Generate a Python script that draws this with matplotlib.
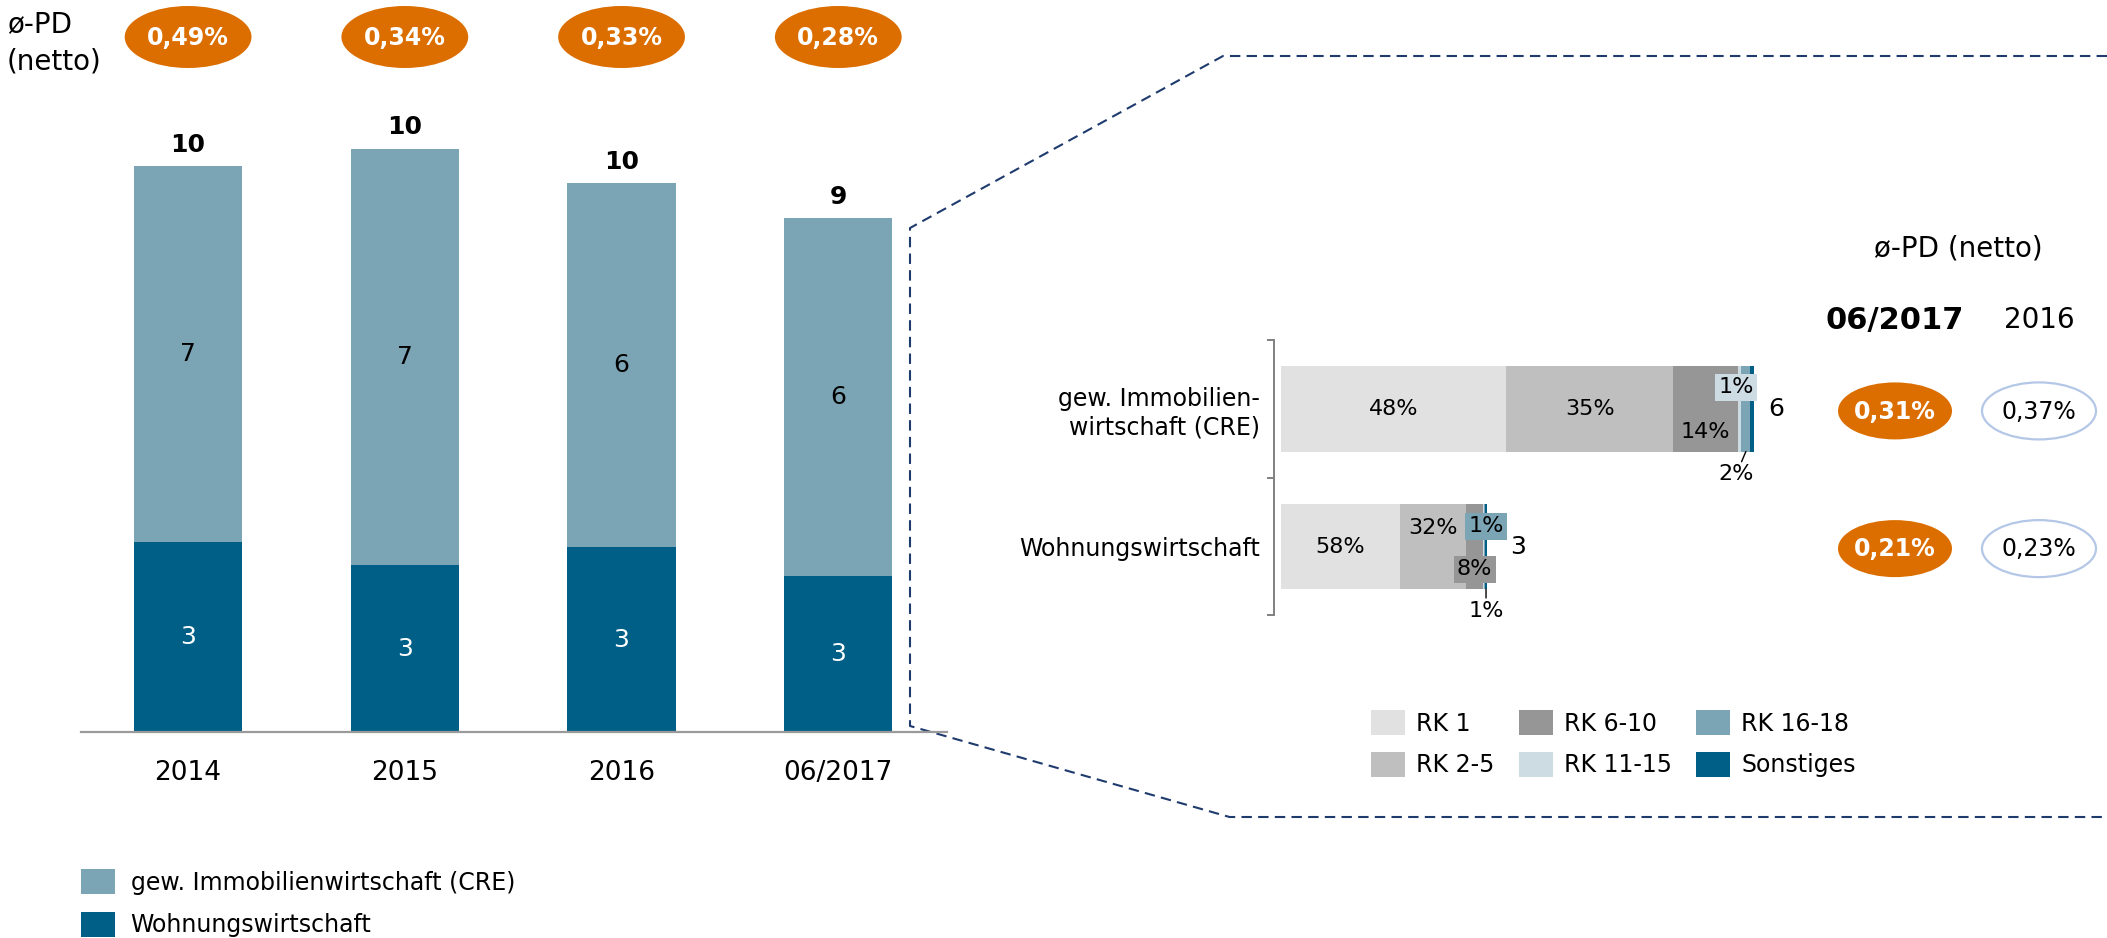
import matplotlib
matplotlib.use('Agg')
import matplotlib.pyplot as plt
from matplotlib.patches import Ellipse
from matplotlib.transforms import blended_transform_factory
import numpy as np

plt.rcParams['font.family'] = ['DejaVu Sans']

# ---------------- data ----------------
years = ['2014', '2015', '2016', '06/2017']
cre_vals = [6.5, 7.2, 6.3, 6.2]
wohn_vals = [3.3, 2.9, 3.2, 2.7]
total_labels = ['10', '10', '10', '9']
cre_labels = ['7', '7', '6', '6']
wohn_labels = ['3', '3', '3', '3']
pd_by_year = ['0,49%', '0,34%', '0,33%', '0,28%']
series_names = ['gew. Immobilienwirtschaft (CRE)', 'Wohnungswirtschaft']

rk_classes = ['RK 1', 'RK 2-5', 'RK 6-10', 'RK 11-15', 'RK 16-18', 'Sonstiges']
segments = ['gew. Immobilien-\nwirtschaft (CRE)', 'Wohnungswirtschaft']
segment_totals = [6.2, 2.7]
segment_total_labels = ['6', '3']
cre_shares = [47.7, 35.3, 13.7, 0.7, 1.9, 0.7]
wohn_shares = [57.8, 32.2, 8.3, 0.4, 0.7, 0.6]
cre_share_labels = ['48%', '35%', '14%', '1%', '2%', None]
wohn_share_labels = ['58%', '32%', '8%', None, '1%', '1%']
pd_0617 = ['0,31%', '0,21%']
pd_2016 = ['0,37%', '0,23%']
pd_header = ['06/2017', '2016']

# ---------------- style ----------------
C_LIGHT = '#7ba4b5'
C_DARK = '#005f87'
C_ORANGE = '#dc6e00'
RK_COLORS = ['#e1e1e1', '#bfbfbf', '#969696', '#cddbe3', '#7ba4b5', '#005f87']
C_DASH = '#1f3b6e'
C_GREY = '#9a9a9a'

W, H = 2107, 938
fig = plt.figure(figsize=(W / 100, H / 100), dpi=100)


def fx(px):
    return px / W


def fy(py):
    return 1 - py / H


# overlay in pixel coordinates for decorations
ov = fig.add_axes([0, 0, 1, 1])
ov.set_xlim(0, W)
ov.set_ylim(H, 0)
ov.axis('off')

# ---------------- left stacked bars ----------------
ax1 = fig.add_axes([fx(80.6), fy(732.3), fx(947.3 - 80.6), (732.3 - 80.6) / H])
x = np.arange(len(years))
b_w = ax1.bar(x, wohn_vals, width=0.5, color=C_DARK, label=series_names[1])
b_c = ax1.bar(x, cre_vals, bottom=wohn_vals, width=0.5, color=C_LIGHT, label=series_names[0])
ax1.set_xlim(-0.496, 3.503)
ax1.set_ylim(0, 11.28)
for s in ['top', 'left', 'right']:
    ax1.spines[s].set_visible(False)
ax1.spines['bottom'].set_color(C_GREY)
ax1.spines['bottom'].set_linewidth(1.6)
ax1.set_yticks([])
ax1.set_xticks(x, years)
ax1.tick_params(axis='x', length=0, pad=20, labelsize=19)
ax1.patch.set_alpha(0)

for i in range(len(years)):
    tot = cre_vals[i] + wohn_vals[i]
    ax1.annotate(total_labels[i], (x[i], tot), xytext=(0, 10.5), textcoords='offset points',
                 ha='center', va='baseline', fontsize=18, fontweight='bold')
    ax1.text(x[i], wohn_vals[i] + cre_vals[i] / 2, cre_labels[i], ha='center', va='center',
             fontsize=18, color='black')
    ax1.text(x[i], wohn_vals[i] / 2, wohn_labels[i], ha='center', va='center',
             fontsize=18, color='white')

# PD ellipses above the bars
tr1 = blended_transform_factory(ax1.transData, ov.transData)
for i in range(len(years)):
    ov.add_patch(Ellipse((x[i], 37), width=0.585, height=62, transform=tr1,
                         facecolor=C_ORANGE, edgecolor='none'))
    ov.text(x[i], 38, pd_by_year[i], transform=tr1, ha='center', va='center',
            color='white', fontsize=17, fontweight='bold')

ov.text(7, 10, 'ø-PD\n(netto)', ha='left', va='top', fontsize=20, linespacing=1.42)

# ---------------- right stacked horizontal bars ----------------
ax2 = fig.add_axes([fx(1274), fy(615.4), fx(1800.6 - 1274), (615.4 - 340) / H])
y = np.arange(len(segments))
shares = [cre_shares, wohn_shares]
share_labels = [cre_share_labels, wohn_share_labels]
left = np.zeros(len(segments))
lefts, widths = [], []
rk_handles = []
for k, rk in enumerate(rk_classes):
    w = np.array([segment_totals[i] * shares[i][k] / 100 for i in range(len(segments))])
    h = ax2.barh(y, w, left=left, height=0.62, color=RK_COLORS[k], label=rk)
    rk_handles.append(h)
    lefts.append(left.copy())
    widths.append(w)
    left = left + w

ax2.set_xlim(-0.087, 6.815)
ax2.set_ylim(1.5, -0.5)
for s in ['top', 'right', 'bottom']:
    ax2.spines[s].set_visible(False)
ax2.spines['left'].set_color('#808080')
ax2.spines['left'].set_linewidth(1.4)
ax2.set_xticks([])
ax2.set_yticks(y, segments)
ax2.set_yticks([-0.5, 0.5, 1.5], minor=True)
ax2.tick_params(axis='y', which='major', length=0, pad=10, labelsize=17)
ax2.tick_params(axis='y', which='minor', length=5, width=1.4, color='#808080', direction='out')
ax2.patch.set_alpha(0)

# label styles: (dx pt, dy pt, box colour, leader)
label_style = {
    (0, 2): (0, -17, None, False),
    (0, 3): (-2.5, 15.5, RK_COLORS[3], False),
    (0, 4): (-7, -16.5, None, True),
    (1, 1): (0, 13.5, None, False),
    (1, 2): (0, -16.5, RK_COLORS[2], False),
    (1, 4): (1, 14.5, RK_COLORS[4], False),
    (1, 5): (0, -15.5, None, True),
}
for i in range(len(segments)):
    for k in range(len(rk_classes)):
        lab = share_labels[i][k]
        if lab is None:
            continue
        cx = lefts[k][i] + widths[k][i] / 2
        dx, dy, box, leader = label_style.get((i, k), (0, 0, None, False))
        bbox = dict(boxstyle='square,pad=0.15', fc=box, ec='none') if box else None
        if leader:
            ax2.annotate(lab, (cx, i + 0.31), xytext=(dx, dy), textcoords='offset points',
                         ha='center', va='center', fontsize=16,
                         arrowprops=dict(arrowstyle='-', lw=1.0, color='black',
                                         shrinkA=0, shrinkB=0))
        else:
            ax2.annotate(lab, (cx, i), xytext=(dx, dy), textcoords='offset points',
                         ha='center', va='center', fontsize=16, bbox=bbox)

total_offsets = [10.5, 17]
for i in range(len(segments)):
    ax2.annotate(segment_total_labels[i], (left[i], i), xytext=(total_offsets[i], 0),
                 textcoords='offset points', ha='left', va='center', fontsize=18)

# right PD columns
ov.text(1958, 248, 'ø-PD (netto)', ha='center', va='center', fontsize=20)
ov.text(1895, 320, pd_header[0], ha='center', va='center', fontsize=22, fontweight='bold')
ov.text(2039, 320, pd_header[1], ha='center', va='center', fontsize=20)
tr2 = blended_transform_factory(ov.transData, ax2.transData)
for i in range(len(segments)):
    ov.add_patch(Ellipse((1895, i + 0.015), width=114, height=0.414, transform=tr2,
                         facecolor=C_ORANGE, edgecolor='none'))
    ov.text(1895, i + 0.02, pd_0617[i], transform=tr2, ha='center', va='center',
            color='white', fontsize=17, fontweight='bold')
    ov.add_patch(Ellipse((2039, i + 0.015), width=114, height=0.414, transform=tr2,
                         facecolor='white', edgecolor='#b4c7e7', lw=1.6))
    ov.text(2039, i + 0.02, pd_2016[i], transform=tr2, ha='center', va='center',
            color='black', fontsize=17)

# dashed zoom connector
ov.plot([2107, 1223, 910, 910, 1229.5, 2107], [56, 56, 228, 726, 817, 817],
        color=C_DASH, lw=1.5, linestyle=(0, (5, 3)))

# ---------------- legends ----------------
fs = 17
fspx = fs * 100 / 72
fig.legend(handles=rk_handles, labels=rk_classes, ncol=3, loc='upper left',
           bbox_to_anchor=(fx(1370.6), fy(710)), frameon=False, fontsize=fs,
           handlelength=34 / fspx, handleheight=30 / fspx, handletextpad=0.47,
           columnspacing=1.04, labelspacing=0.68, borderpad=0, borderaxespad=0)
fig.legend(handles=[b_c, b_w], labels=series_names, ncol=1, loc='upper left',
           bbox_to_anchor=(fx(80.6), fy(869)), frameon=False, fontsize=fs,
           handlelength=34 / fspx, handleheight=30 / fspx, handletextpad=0.68,
           labelspacing=0.73, borderpad=0, borderaxespad=0)

fig.savefig('out.png', dpi=100)
